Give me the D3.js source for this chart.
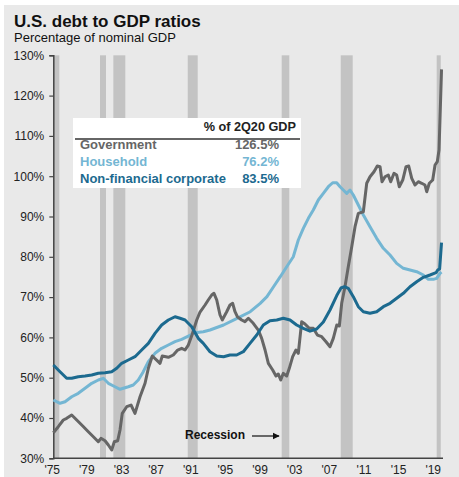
<!DOCTYPE html>
<html><head><meta charset="utf-8">
<script src="https://cdn.jsdelivr.net/npm/d3@7"></script>
<style>body{margin:0;background:#fff}svg{display:block}text{font-family:"Liberation Sans",Arial,sans-serif}</style>
</head><body>
<script>
// ---------- data ----------
const yTicks = [30,40,50,60,70,80,90,100,110,120,130];
const xTickYears = [1975,1979,1983,1987,1991,1995,1999,2003,2007,2011,2015,2019];
const xTickLabels = ["'75","'79","'83","'87","'91","'95","'99","'03","'07","'11","'15","'19"];
const recessions = [[1975.19,1975.88],[1980.58,1981.27],[1982.12,1983.50],[1990.71,1991.86],[2001.56,2002.44],[2008.38,2009.76],[2019.46,2019.93]];
const government = [[1975.19,36.35],[1975.76,37.84],[1976.34,39.5],[1976.73,39.92],[1977.31,40.74],[1977.89,39.5],[1978.47,38.26],[1979.23,36.6],[1979.81,35.36],[1980.38,34.12],[1980.69,34.96],[1981.16,34.36],[1981.54,33.3],[1981.93,32.06],[1982.23,34.12],[1982.62,34.36],[1982.89,37.02],[1983.15,41.16],[1983.66,42.8],[1984.16,43.22],[1984.62,41.16],[1985.2,45.28],[1985.78,48.61],[1986.16,52.33],[1986.62,55.38],[1987.51,53.57],[1987.77,55.38],[1988.47,55.06],[1989.04,55.63],[1989.55,56.87],[1990.01,57.29],[1990.4,56.87],[1990.78,58.1],[1991.2,60.59],[1991.75,64.32],[1992.13,66.3],[1992.71,68.04],[1993.08,69.28],[1993.48,70.52],[1993.74,70.94],[1994.06,69.28],[1994.44,65.56],[1994.7,64.32],[1995.21,66.37],[1995.59,68.04],[1995.9,68.46],[1996.17,66.37],[1996.44,65.13],[1996.94,64.32],[1997.32,63.9],[1997.71,64.74],[1998.28,63.5],[1998.86,61.83],[1999.25,59.77],[1999.64,56.87],[2000.02,53.57],[2000.52,51.91],[2000.9,50.42],[2001.17,50.92],[2001.45,49.43],[2001.75,51.09],[2002.14,50.42],[2002.44,52.33],[2002.83,55.21],[2003.21,56.87],[2003.48,56.05],[2003.87,63.89],[2004.25,63.32],[2004.75,62.25],[2005.21,62.25],[2005.68,60.59],[2006.18,60.17],[2006.68,58.93],[2007.14,57.69],[2007.52,59.77],[2007.92,63.07],[2008.22,62.83],[2008.49,68.46],[2008.87,72.58],[2009.25,77.54],[2009.65,82.5],[2010.03,87.47],[2010.41,90.79],[2010.99,91.19],[2011.38,98.24],[2011.76,99.87],[2012.22,101.11],[2012.6,102.53],[2012.92,102.36],[2013.15,98.63],[2013.49,99.87],[2013.87,100.3],[2014.15,98.63],[2014.53,100.72],[2014.84,100.3],[2015.14,97.39],[2015.54,99.05],[2015.92,102.36],[2016.23,102.53],[2016.58,99.48],[2016.96,97.81],[2017.34,98.63],[2017.73,98.24],[2018.11,97.81],[2018.31,96.15],[2018.61,98.24],[2019.0,99.05],[2019.27,102.78],[2019.53,103.6],[2019.73,106.5],[2020.02,126.5]];
const household = [[1975.19,44.46],[1975.96,43.65],[1976.54,44.04],[1977.31,45.28],[1978.07,46.13],[1978.85,47.37],[1979.62,48.61],[1980.38,49.43],[1980.96,49.85],[1981.54,48.61],[1982.31,47.76],[1982.89,47.12],[1983.85,47.76],[1984.42,48.19],[1985.0,49.43],[1985.58,51.49],[1986.16,53.97],[1986.93,56.05],[1987.7,57.29],[1988.47,58.11],[1989.24,58.93],[1990.01,59.53],[1990.78,60.34],[1991.55,61.16],[1992.51,61.41],[1993.28,61.83],[1994.85,63.07],[1996.4,64.74],[1997.93,66.37],[1999.08,68.46],[1999.86,70.1],[2000.62,72.58],[2001.4,75.06],[2002.14,77.54],[2002.9,80.02],[2003.48,84.17],[2004.06,87.07],[2004.64,89.55],[2005.21,91.61],[2005.79,94.09],[2006.37,95.75],[2006.95,97.39],[2007.45,98.38],[2007.91,98.38],[2008.3,97.39],[2008.68,96.57],[2009.07,95.75],[2009.45,96.57],[2009.83,95.33],[2010.41,92.85],[2010.99,90.37],[2011.76,87.47],[2012.53,84.59],[2013.3,82.11],[2014.07,80.44],[2014.84,78.38],[2015.61,77.14],[2016.38,76.72],[2017.15,76.3],[2017.92,75.48],[2018.5,74.41],[2019.07,74.41],[2019.46,74.66],[2019.84,75.9],[2020.02,76.2]];
const corporate = [[1975.19,53.15],[1975.96,51.49],[1976.73,49.85],[1977.31,49.85],[1978.07,50.25],[1978.85,50.42],[1979.62,50.67],[1980.38,51.09],[1981.16,51.24],[1981.93,51.49],[1982.51,52.33],[1983.08,53.57],[1983.85,54.39],[1984.62,55.21],[1985.39,56.87],[1986.16,58.53],[1986.93,61.01],[1987.7,63.07],[1988.47,64.32],[1989.24,65.13],[1989.82,64.74],[1990.4,64.32],[1991.17,62.65],[1991.93,59.77],[1992.51,58.53],[1993.28,56.45],[1994.06,55.38],[1994.85,55.21],[1995.59,55.63],[1996.36,55.63],[1997.13,56.45],[1997.9,58.53],[1998.68,60.59],[1999.44,63.07],[2000.21,64.14],[2000.99,64.32],[2001.75,64.74],[2002.52,64.32],[2003.29,63.07],[2004.06,62.25],[2004.83,61.54],[2005.6,62.08],[2006.37,63.82],[2007.14,66.8],[2007.92,70.39],[2008.41,72.26],[2008.82,72.58],[2009.25,72.18],[2009.83,70.1],[2010.41,67.62],[2010.99,66.37],[2011.76,65.98],[2012.53,66.37],[2013.3,67.62],[2014.07,68.46],[2014.84,69.7],[2015.61,70.94],[2016.38,72.58],[2017.15,73.82],[2017.92,74.91],[2018.69,75.48],[2019.38,76.05],[2019.58,76.72],[2019.8,77.0],[2020.02,83.5]];
const legendHeader = "% of 2Q20 GDP";
const legendNames = ["Government","Household","Non-financial corporate"];
const legendValues = ["126.5%","76.2%","83.5%"];
const colors = ["#666666","#74b6d3","#1c6a8f"];

// ---------- chart ----------
const W = 459, H = 477;
const svg = d3.select("body").append("svg").attr("width",W).attr("height",H);
svg.append("rect").attr("x",4).attr("y",5).attr("width",W-4).attr("height",H-5).attr("fill","#e9e9e9");

const x = d3.scaleLinear().domain([1975,2019]).range([51.7,432.7]);
const y = d3.scaleLinear().domain([30,130]).range([458.3,55.3]);
const axisX = 53.3;

// recession bars
svg.append("g").selectAll("rect").data(recessions).join("rect")
  .attr("x",d=>Math.max(axisX,x(d[0])))
  .attr("y",y(130))
  .attr("width",d=>x(d[1])-Math.max(axisX,x(d[0])))
  .attr("height",y(30)-y(130))
  .attr("fill","#c3c3c3");

// axes
const yAxis = d3.axisLeft(y).tickValues(yTicks).tickFormat(d=>d+"%").tickSize(4).tickPadding(5);
const gy = svg.append("g").attr("transform",`translate(${axisX},0)`).call(yAxis);
gy.select(".domain").attr("stroke","#444").attr("stroke-width",1.5);
gy.selectAll(".tick line").attr("stroke","#444").attr("stroke-width",1.2);
gy.selectAll("text").attr("font-size",12).attr("fill","#222");

const xAxis = d3.axisBottom(x).tickValues(xTickYears).tickFormat((d,i)=>xTickLabels[i]).tickSize(0).tickPadding(7);
const gx = svg.append("g").attr("transform",`translate(0,${y(30)})`).call(xAxis);
gx.select(".domain").remove();
gx.selectAll("text").attr("font-size",12).attr("fill","#222");
svg.append("line").attr("x1",axisX).attr("x2",443).attr("y1",y(30)).attr("y2",y(30)).attr("stroke","#444").attr("stroke-width",1.5);

// lines
const line = d3.line().x(d=>x(d[0])).y(d=>y(d[1]));
[household, government, corporate].forEach((s,i)=>{
  const c = [colors[1],colors[0],colors[2]][i];
  svg.append("path").datum(s).attr("d",line).attr("fill","none").attr("stroke",c).attr("stroke-width",3).attr("stroke-linejoin","round");
});

// titles
svg.append("text").attr("x",14).attr("y",27).attr("font-size",17).attr("font-weight","bold").attr("fill","#111").text("U.S. debt to GDP ratios");
svg.append("text").attr("x",14).attr("y",42).attr("font-size",13).attr("fill","#111").text("Percentage of nominal GDP");

// legend table
const lg = svg.append("g");
lg.append("rect").attr("x",73).attr("y",118).attr("width",228).attr("height",70).attr("fill","#fff");
lg.append("text").attr("x",296).attr("y",131).attr("text-anchor","end").attr("font-size",12.7).attr("font-weight","bold").attr("fill","#222").text(legendHeader);
lg.append("line").attr("x1",75).attr("x2",300).attr("y1",139).attr("y2",139).attr("stroke","#333").attr("stroke-width",1.5);
legendNames.forEach((n,i)=>{
  const yy = 149 + i*17;
  lg.append("text").attr("x",80).attr("y",yy).attr("font-size",13).attr("font-weight","bold").attr("fill",colors[i]).text(n);
  lg.append("text").attr("x",279).attr("y",yy).attr("text-anchor","end").attr("font-size",13).attr("font-weight","bold").attr("fill",colors[i]).text(legendValues[i]);
});

// recession annotation
svg.append("defs").append("marker").attr("id","arr").attr("viewBox","0 0 10 10").attr("refX",9).attr("refY",5)
  .attr("markerWidth",6).attr("markerHeight",6).attr("orient","auto")
  .append("path").attr("d","M0,0L10,5L0,10Z").attr("fill","#111");
svg.append("text").attr("x",185).attr("y",439).attr("font-size",12).attr("font-weight","bold").attr("fill","#111").text("Recession");
svg.append("line").attr("x1",252).attr("x2",279).attr("y1",436).attr("y2",436).attr("stroke","#111").attr("stroke-width",1.2).attr("marker-end","url(#arr)");
</script>
</body></html>
